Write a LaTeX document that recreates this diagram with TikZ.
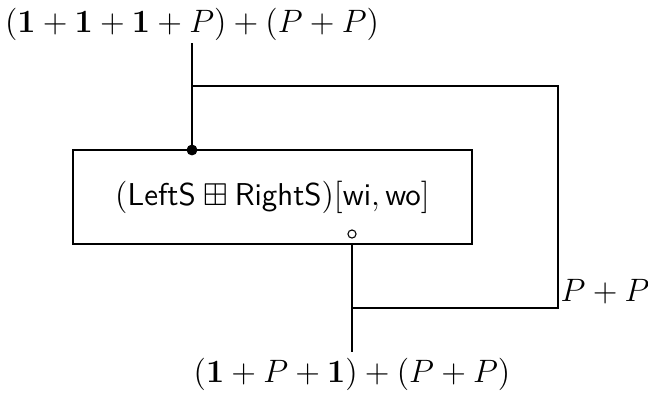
\documentclass[tikz,border=0pt]{standalone}
\usepackage{amsmath,amssymb}
\usetikzlibrary{positioning}

\newcommand*{\picw}{648}
\newcommand*{\pich}{392}

\begin{document}
\begin{tikzpicture}
[
	closedpt/.style={circle,draw,fill,inner sep=0pt,minimum size=3.6pt},
	openpt/.style={circle,draw,inner sep=0pt,minimum size=3pt,thin},
	blockbox/.style={draw,thick,minimum width=147.8pt,minimum height=34.8pt,inner sep=0pt},
	font=\fontsize{11.7}{14}\selectfont,
	x=0.3704pt,y=-0.3704pt
]
	\useasboundingbox (0,0) rectangle (\picw,\pich);

	% box
	\node[blockbox] at (272.5,197) (blk) {$(\textsf{LeftS} \boxplus \textsf{RightS})[\textsf{wi}, \textsf{wo}]$};
	\node[closedpt] at (192,150) (inpt) {};
	\node[openpt] at (352,234) (outpt) {};

	% labels
	\node at (192,24) (in) {$(\mathbf{1} + \mathbf{1} + \mathbf{1} + P) + (P + P)$};
	\node at (352,374) (out) {$(\mathbf{1} + P + \mathbf{1}) + (P + P)$};

	% wires
	\coordinate (split) at (192,86);
	\coordinate (turn) at (558,86);
	\coordinate (back) at (558,308);
	\coordinate (join) at (352,308);

	\draw[thick] (192,43) -- (inpt);
	\draw[thick] (split) -- (turn) -- (back) node[anchor=south west,inner xsep=0.6pt,inner ysep=1pt] {$P + P$} -- (join);
	\draw[thick] (blk.south -| outpt) -- (352,352);

\end{tikzpicture}
\end{document}
